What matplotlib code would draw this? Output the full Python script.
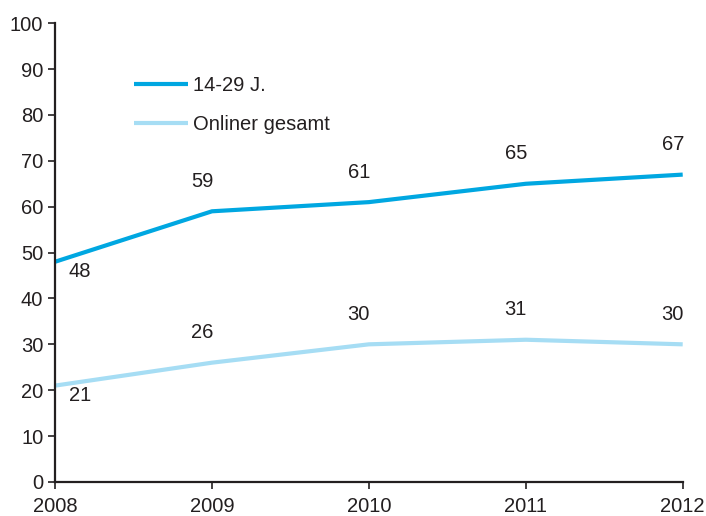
import matplotlib
matplotlib.use('Agg')
import matplotlib.pyplot as plt

years = [2008, 2009, 2010, 2011, 2012]
young = [48, 59, 61, 65, 67]
total = [21, 26, 30, 31, 30]
series_names = ['14-29 J.', 'Onliner gesamt']

plt.rcParams['font.family'] = ['Liberation Sans', 'DejaVu Sans']
plt.rcParams['font.size'] = 14.5
text_col = '#231f20'

fig = plt.figure(figsize=(7.06, 5.16), dpi=100)
ax = fig.add_axes([0.078, 0.066, 0.889, 0.889])

ax.plot(years, young, color='#00a7e1', lw=3, solid_capstyle='butt', label=series_names[0])
ax.plot(years, total, color='#a6ddf4', lw=3, solid_capstyle='butt', label=series_names[1])

# value labels: first point sits below-right, the rest above the line
for vals in (young, total):
    for i, (x, v) in enumerate(zip(years, vals)):
        if i == 0:
            off = (25, -10)
        else:
            off = (-10, 30)
        ax.annotate(str(v), (x, v), xytext=off, textcoords='offset pixels',
                    ha='center', va='center', color=text_col)

ax.set_xlim(2008, 2012)
ax.set_ylim(0, 100)
ax.set_xticks(years)
ax.set_yticks(range(0, 101, 10))
ax.tick_params(axis='both', colors='#231f20', labelcolor=text_col, width=1.2, length=5)
ax.tick_params(axis='x', pad=6)
for s in ['top', 'right']:
    ax.spines[s].set_visible(False)
for s in ['left', 'bottom']:
    ax.spines[s].set_linewidth(1.6)
    ax.spines[s].set_color('#231f20')

leg = ax.legend(loc='upper left', bbox_to_anchor=(0.097, 0.925), frameon=False,
                handlelength=2.7, handletextpad=0.25, labelspacing=1.0)
for t in leg.get_texts():
    t.set_color(text_col)

fig.savefig('out.png', dpi=100)
